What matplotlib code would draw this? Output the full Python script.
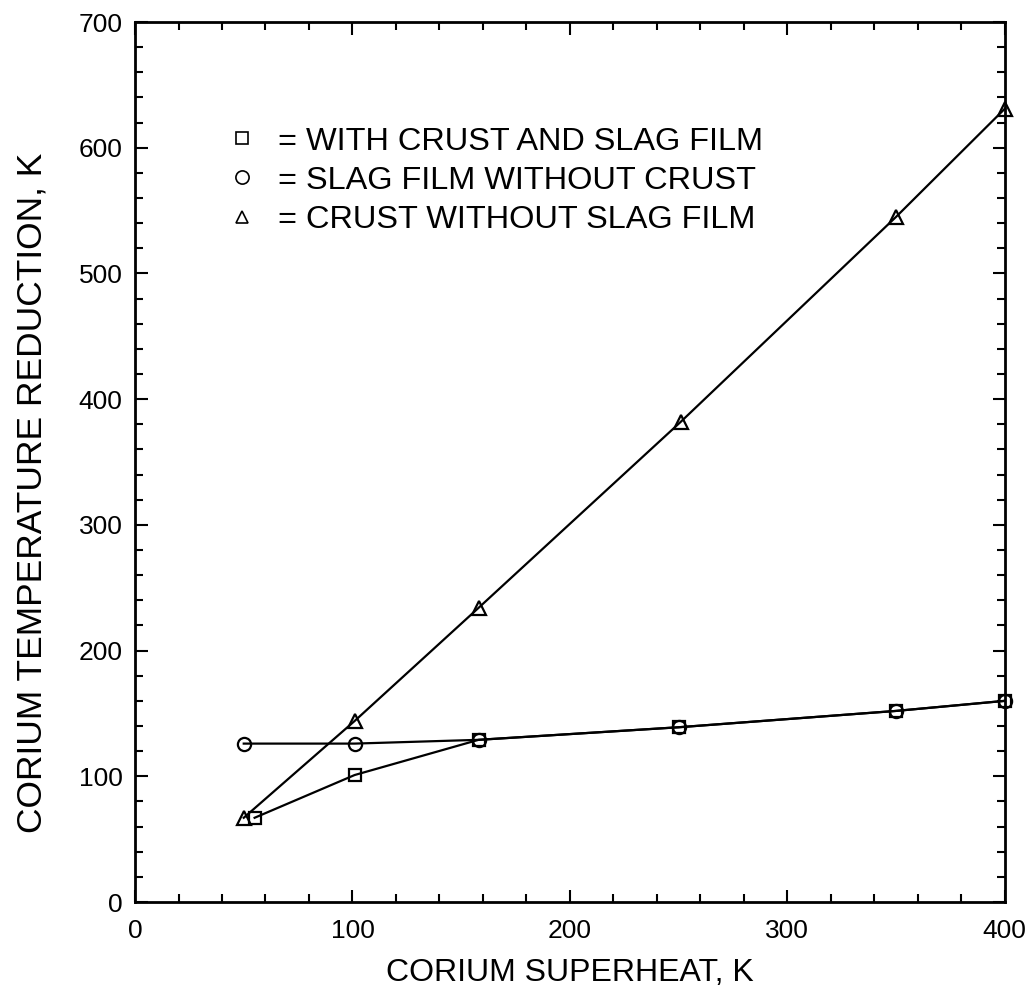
import matplotlib
matplotlib.use("Agg")
import matplotlib.pyplot as plt
from matplotlib.ticker import MultipleLocator
from matplotlib.lines import Line2D

plt.rcParams['font.family'] = ['Liberation Sans', 'DejaVu Sans']

# Data
sq_x = [55, 101, 158, 250, 350, 400]
sq_y = [67, 101, 129, 139, 152, 160]
ci_x = [50, 101, 158, 250, 350, 400]
ci_y = [126, 126, 129, 139, 152, 160]
tr_x = [50, 101, 158, 251, 350, 400]
tr_y = [67, 144, 234, 382, 545, 631]

labels = ["= WITH CRUST AND SLAG FILM",
          "= SLAG FILM WITHOUT CRUST",
          "= CRUST WITHOUT SLAG FILM"]
x_ticks = [0, 100, 200, 300, 400]
y_ticks = [0, 100, 200, 300, 400, 500, 600, 700]

fig = plt.figure(figsize=(10.33, 10.0), dpi=100)
ax = fig.add_axes([0.1307, 0.098, 0.842, 0.880])

lw = 1.6
ax.plot(ci_x, ci_y, color='black', lw=lw, marker='o', ms=9.5,
        mfc='none', mec='black', mew=1.6, clip_on=False, zorder=3)
ax.plot(sq_x, sq_y, color='black', lw=lw, marker='s', ms=9,
        mfc='none', mec='black', mew=1.6, clip_on=False, zorder=3)
ax.plot(tr_x, tr_y, color='black', lw=lw, marker='^', ms=10,
        mfc='none', mec='black', mew=1.6, clip_on=False, zorder=3)

ax.set_xlim(0, 400)
ax.set_ylim(0, 700)
ax.set_xticks(x_ticks)
ax.set_yticks(y_ticks)
ax.xaxis.set_minor_locator(MultipleLocator(20))
ax.yaxis.set_minor_locator(MultipleLocator(20))
ax.tick_params(which='both', direction='in', top=True, right=True,
               width=1.5, colors='black')
ax.tick_params(which='major', length=9, labelsize=19)
ax.tick_params(axis='x', which='major', pad=12)
ax.tick_params(axis='y', which='major', pad=9)
ax.tick_params(which='minor', length=6)
for s in ax.spines.values():
    s.set_linewidth(2.0)

ax.set_xlabel("CORIUM SUPERHEAT, K", fontsize=23)
ax.set_ylabel("CORIUM TEMPERATURE REDUCTION, K", fontsize=25.5)
ax.xaxis.set_label_coords(0.5, -0.064)
ax.yaxis.set_label_coords(-0.10, 0.465)

handles = [Line2D([], [], ls='none', marker='s', ms=9, mfc='none', mec='black', mew=1.2),
           Line2D([], [], ls='none', marker='o', ms=9.5, mfc='none', mec='black', mew=1.2),
           Line2D([], [], ls='none', marker='^', ms=8, mfc='none', mec='black', mew=1.2)]
ax.legend(handles, labels, loc='upper left', bbox_to_anchor=(0.108, 0.881),
          frameon=False, fontsize=23.4, handlelength=0.8, handletextpad=0.7,
          labelspacing=0.28, borderpad=0, borderaxespad=0)

fig.savefig("out.png", dpi=100, facecolor='white')
